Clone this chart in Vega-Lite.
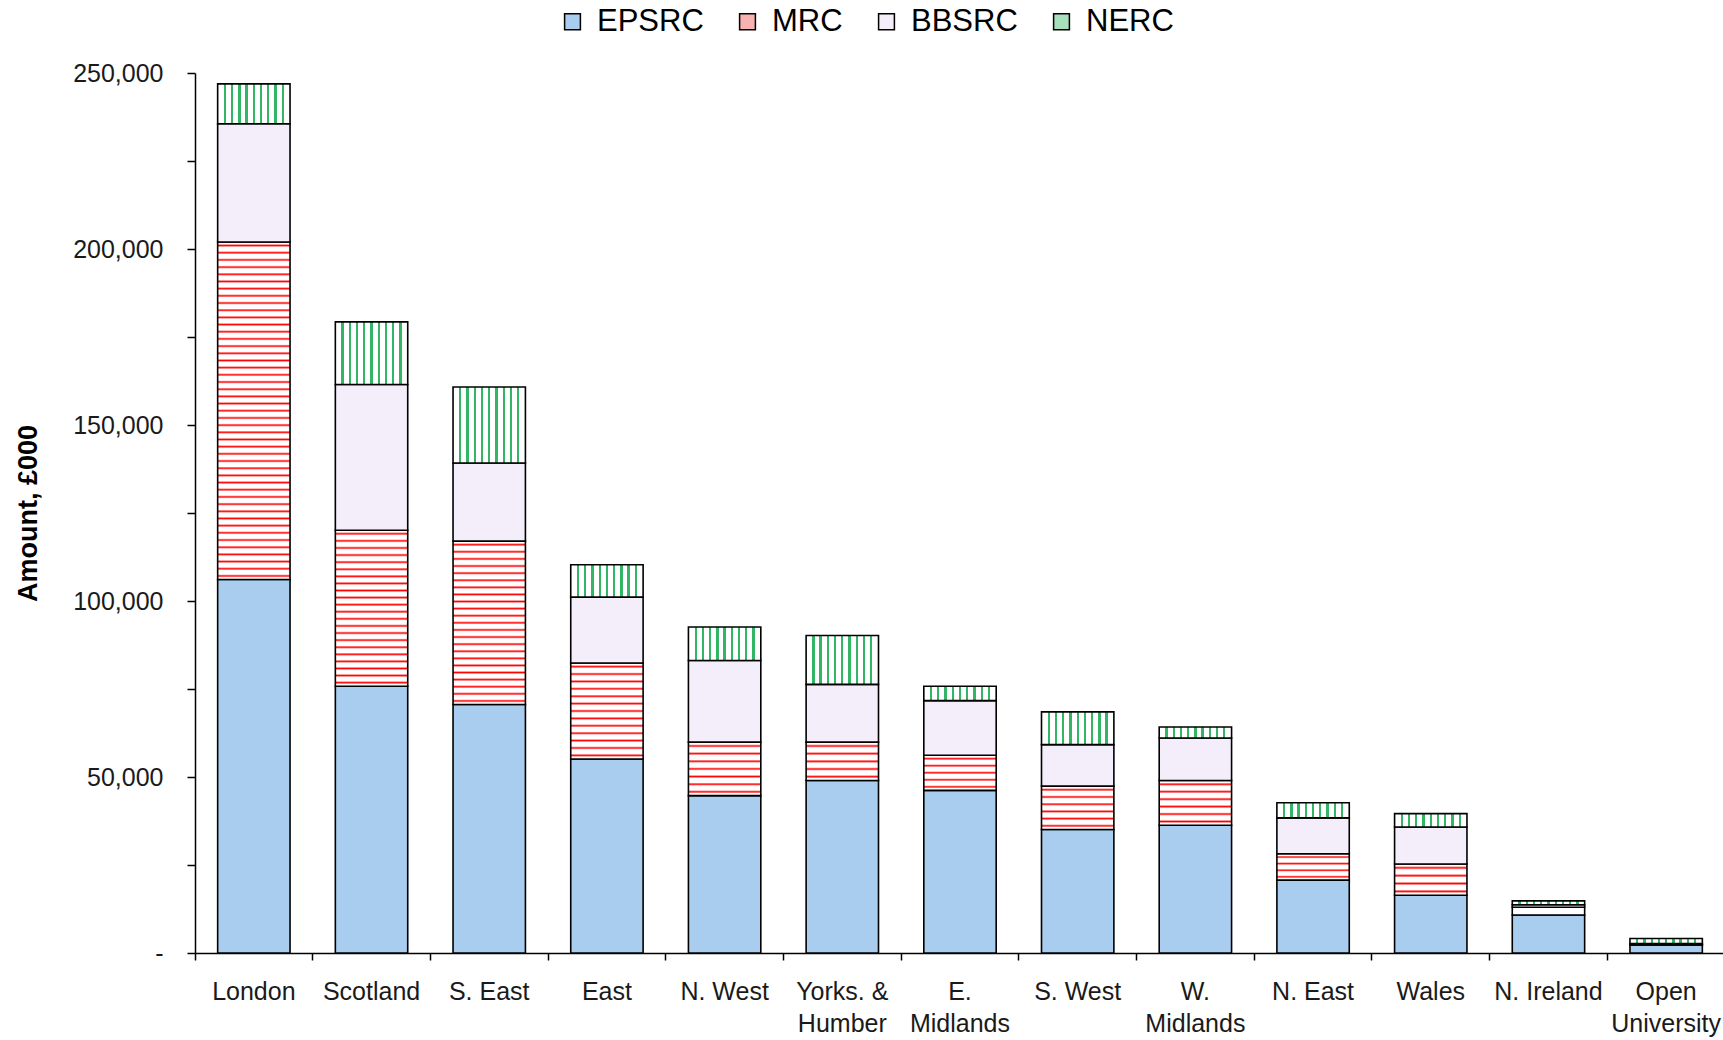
{
  "$schema": "https://vega.github.io/schema/vega-lite/v6.json",
  "autosize": "none",
  "padding": {"left": 195, "top": 73, "right": 0, "bottom": 87},
  "width": 1530,
  "height": 880,
  "background": "white",
  "config": {"view": {"stroke": null}, "font": "Liberation Sans"},
  "data": {
    "values": [
      {"Region": "London", "Council": "EPSRC", "Amount": 106100},
      {"Region": "London", "Council": "MRC", "Amount": 95900},
      {"Region": "London", "Council": "BBSRC", "Amount": 33600},
      {"Region": "London", "Council": "NERC", "Amount": 11300},
      {"Region": "Scotland", "Council": "EPSRC", "Amount": 75800},
      {"Region": "Scotland", "Council": "MRC", "Amount": 44300},
      {"Region": "Scotland", "Council": "BBSRC", "Amount": 41400},
      {"Region": "Scotland", "Council": "NERC", "Amount": 17800},
      {"Region": "S. East", "Council": "EPSRC", "Amount": 70600},
      {"Region": "S. East", "Council": "MRC", "Amount": 46400},
      {"Region": "S. East", "Council": "BBSRC", "Amount": 22200},
      {"Region": "S. East", "Council": "NERC", "Amount": 21600},
      {"Region": "East", "Council": "EPSRC", "Amount": 55100},
      {"Region": "East", "Council": "MRC", "Amount": 27300},
      {"Region": "East", "Council": "BBSRC", "Amount": 18700},
      {"Region": "East", "Council": "NERC", "Amount": 9200},
      {"Region": "N. West", "Council": "EPSRC", "Amount": 44700},
      {"Region": "N. West", "Council": "MRC", "Amount": 15200},
      {"Region": "N. West", "Council": "BBSRC", "Amount": 23200},
      {"Region": "N. West", "Council": "NERC", "Amount": 9500},
      {"Region": "Yorks. & Humber", "Council": "EPSRC", "Amount": 49000},
      {"Region": "Yorks. & Humber", "Council": "MRC", "Amount": 10900},
      {"Region": "Yorks. & Humber", "Council": "BBSRC", "Amount": 16400},
      {"Region": "Yorks. & Humber", "Council": "NERC", "Amount": 13900},
      {"Region": "E. Midlands", "Council": "EPSRC", "Amount": 46200},
      {"Region": "E. Midlands", "Council": "MRC", "Amount": 10000},
      {"Region": "E. Midlands", "Council": "BBSRC", "Amount": 15500},
      {"Region": "E. Midlands", "Council": "NERC", "Amount": 4100},
      {"Region": "S. West", "Council": "EPSRC", "Amount": 35100},
      {"Region": "S. West", "Council": "MRC", "Amount": 12300},
      {"Region": "S. West", "Council": "BBSRC", "Amount": 11800},
      {"Region": "S. West", "Council": "NERC", "Amount": 9300},
      {"Region": "W. Midlands", "Council": "EPSRC", "Amount": 36300},
      {"Region": "W. Midlands", "Council": "MRC", "Amount": 12700},
      {"Region": "W. Midlands", "Council": "BBSRC", "Amount": 12100},
      {"Region": "W. Midlands", "Council": "NERC", "Amount": 3100},
      {"Region": "N. East", "Council": "EPSRC", "Amount": 20700},
      {"Region": "N. East", "Council": "MRC", "Amount": 7500},
      {"Region": "N. East", "Council": "BBSRC", "Amount": 10200},
      {"Region": "N. East", "Council": "NERC", "Amount": 4300},
      {"Region": "Wales", "Council": "EPSRC", "Amount": 16400},
      {"Region": "Wales", "Council": "MRC", "Amount": 8900},
      {"Region": "Wales", "Council": "BBSRC", "Amount": 10500},
      {"Region": "Wales", "Council": "NERC", "Amount": 3800},
      {"Region": "N. Ireland", "Council": "EPSRC", "Amount": 10800},
      {"Region": "N. Ireland", "Council": "MRC", "Amount": 2200},
      {"Region": "N. Ireland", "Council": "BBSRC", "Amount": 700},
      {"Region": "N. Ireland", "Council": "NERC", "Amount": 1100},
      {"Region": "Open University", "Council": "EPSRC", "Amount": 2300},
      {"Region": "Open University", "Council": "MRC", "Amount": 100},
      {"Region": "Open University", "Council": "BBSRC", "Amount": 300},
      {"Region": "Open University", "Council": "NERC", "Amount": 1400}
    ]
  },
  "transform": [
    {"calculate": "indexof(['EPSRC','MRC','BBSRC','NERC'], datum.Council)", "as": "StackOrder"}
  ],
  "mark": {"type": "bar", "stroke": "#000000", "strokeWidth": 1.6, "width": {"band": 0.615}},
  "encoding": {
    "x": {
      "field": "Region",
      "type": "nominal",
      "sort": null,
      "scale": {"paddingInner": 0, "paddingOuter": 0},
      "axis": {
        "title": null,
        "labelAngle": 0,
        "bandPosition": 0,
        "tickSize": 7,
        "tickWidth": 1.5,
        "tickColor": "#000000",
        "domainColor": "#000000",
        "domainWidth": 1.5,
        "labelFont": "Liberation Sans",
        "labelFontSize": 25,
        "labelColor": "#1a1a1a",
        "labelPadding": 19,
        "labelLineHeight": 32,
        "labelLimit": 400,
        "labelOverlap": false,
        "labelExpr": "datum.label === 'Yorks. & Humber' ? ['Yorks. &', 'Humber'] : ((indexof(datum.label, 'Midlands') >= 0 || indexof(datum.label, 'University') >= 0) ? split(datum.label, ' ') : datum.label)"
      }
    },
    "y": {
      "field": "Amount",
      "type": "quantitative",
      "stack": "zero",
      "scale": {"domain": [0, 250000], "nice": false, "zero": true},
      "axis": {
        "title": "Amount, £000",
        "titleFont": "Liberation Sans",
        "titleFontSize": 27,
        "titleFontWeight": "bold",
        "titleColor": "#000000",
        "titlePadding": 30,
        "values": [0, 25000, 50000, 75000, 100000, 125000, 150000, 175000, 200000, 225000, 250000],
        "labelExpr": "datum.value === 0 ? '-\u00a0\u00a0' : (datum.value % 50000 === 0 ? format(datum.value, ',') : '')",
        "labelFont": "Liberation Sans",
        "labelFontSize": 25,
        "labelColor": "#1a1a1a",
        "labelPadding": 24,
        "labelOverlap": false,
        "tickSize": 8,
        "tickWidth": 1.5,
        "tickColor": "#000000",
        "domainColor": "#000000",
        "domainWidth": 1.5,
        "grid": false
      }
    },
    "fill": {
      "condition": [
        {
          "test": "datum.Council === 'NERC'",
          "value": {
            "gradient": "linear", "x1": 0, "y1": 0, "x2": 1, "y2": 0,
            "stops": [
              {"offset": 0, "color": "#fff"},
              {"offset": 0.084, "color": "#fff"}, {"offset": 0.084, "color": "#33b566"}, {"offset": 0.116, "color": "#33b566"}, {"offset": 0.116, "color": "#fff"},
              {"offset": 0.184, "color": "#fff"}, {"offset": 0.184, "color": "#33b566"}, {"offset": 0.216, "color": "#33b566"}, {"offset": 0.216, "color": "#fff"},
              {"offset": 0.284, "color": "#fff"}, {"offset": 0.284, "color": "#33b566"}, {"offset": 0.316, "color": "#33b566"}, {"offset": 0.316, "color": "#fff"},
              {"offset": 0.384, "color": "#fff"}, {"offset": 0.384, "color": "#33b566"}, {"offset": 0.416, "color": "#33b566"}, {"offset": 0.416, "color": "#fff"},
              {"offset": 0.484, "color": "#fff"}, {"offset": 0.484, "color": "#33b566"}, {"offset": 0.516, "color": "#33b566"}, {"offset": 0.516, "color": "#fff"},
              {"offset": 0.584, "color": "#fff"}, {"offset": 0.584, "color": "#33b566"}, {"offset": 0.616, "color": "#33b566"}, {"offset": 0.616, "color": "#fff"},
              {"offset": 0.684, "color": "#fff"}, {"offset": 0.684, "color": "#33b566"}, {"offset": 0.716, "color": "#33b566"}, {"offset": 0.716, "color": "#fff"},
              {"offset": 0.784, "color": "#fff"}, {"offset": 0.784, "color": "#33b566"}, {"offset": 0.816, "color": "#33b566"}, {"offset": 0.816, "color": "#fff"},
              {"offset": 0.884, "color": "#fff"}, {"offset": 0.884, "color": "#33b566"}, {"offset": 0.916, "color": "#33b566"}, {"offset": 0.916, "color": "#fff"},
              {"offset": 1, "color": "#fff"}
            ]
          }
        },
        {
          "test": "datum.Council === 'MRC' && datum.Region === 'London'",
          "value": {
            "gradient": "linear", "x1": 0, "y1": 0, "x2": 0, "y2": 1,
            "stops": [
              {"offset": 0.0056, "color": "#fff"}, {"offset": 0.0106, "color": "#f00"}, {"offset": 0.0156, "color": "#fff"},
              {"offset": 0.0269, "color": "#fff"}, {"offset": 0.0319, "color": "#f00"}, {"offset": 0.0369, "color": "#fff"},
              {"offset": 0.0482, "color": "#fff"}, {"offset": 0.0532, "color": "#f00"}, {"offset": 0.0582, "color": "#fff"},
              {"offset": 0.0695, "color": "#fff"}, {"offset": 0.0745, "color": "#f00"}, {"offset": 0.0795, "color": "#fff"},
              {"offset": 0.0907, "color": "#fff"}, {"offset": 0.0957, "color": "#f00"}, {"offset": 0.1007, "color": "#fff"},
              {"offset": 0.1120, "color": "#fff"}, {"offset": 0.1170, "color": "#f00"}, {"offset": 0.1220, "color": "#fff"},
              {"offset": 0.1333, "color": "#fff"}, {"offset": 0.1383, "color": "#f00"}, {"offset": 0.1433, "color": "#fff"},
              {"offset": 0.1546, "color": "#fff"}, {"offset": 0.1596, "color": "#f00"}, {"offset": 0.1646, "color": "#fff"},
              {"offset": 0.1759, "color": "#fff"}, {"offset": 0.1809, "color": "#f00"}, {"offset": 0.1859, "color": "#fff"},
              {"offset": 0.1971, "color": "#fff"}, {"offset": 0.2021, "color": "#f00"}, {"offset": 0.2071, "color": "#fff"},
              {"offset": 0.2184, "color": "#fff"}, {"offset": 0.2234, "color": "#f00"}, {"offset": 0.2284, "color": "#fff"},
              {"offset": 0.2397, "color": "#fff"}, {"offset": 0.2447, "color": "#f00"}, {"offset": 0.2497, "color": "#fff"},
              {"offset": 0.2610, "color": "#fff"}, {"offset": 0.2660, "color": "#f00"}, {"offset": 0.2710, "color": "#fff"},
              {"offset": 0.2822, "color": "#fff"}, {"offset": 0.2872, "color": "#f00"}, {"offset": 0.2922, "color": "#fff"},
              {"offset": 0.3035, "color": "#fff"}, {"offset": 0.3085, "color": "#f00"}, {"offset": 0.3135, "color": "#fff"},
              {"offset": 0.3248, "color": "#fff"}, {"offset": 0.3298, "color": "#f00"}, {"offset": 0.3348, "color": "#fff"},
              {"offset": 0.3461, "color": "#fff"}, {"offset": 0.3511, "color": "#f00"}, {"offset": 0.3561, "color": "#fff"},
              {"offset": 0.3673, "color": "#fff"}, {"offset": 0.3723, "color": "#f00"}, {"offset": 0.3773, "color": "#fff"},
              {"offset": 0.3886, "color": "#fff"}, {"offset": 0.3936, "color": "#f00"}, {"offset": 0.3986, "color": "#fff"},
              {"offset": 0.4099, "color": "#fff"}, {"offset": 0.4149, "color": "#f00"}, {"offset": 0.4199, "color": "#fff"},
              {"offset": 0.4312, "color": "#fff"}, {"offset": 0.4362, "color": "#f00"}, {"offset": 0.4412, "color": "#fff"},
              {"offset": 0.4524, "color": "#fff"}, {"offset": 0.4574, "color": "#f00"}, {"offset": 0.4624, "color": "#fff"},
              {"offset": 0.4737, "color": "#fff"}, {"offset": 0.4787, "color": "#f00"}, {"offset": 0.4837, "color": "#fff"},
              {"offset": 0.4950, "color": "#fff"}, {"offset": 0.5000, "color": "#f00"}, {"offset": 0.5050, "color": "#fff"},
              {"offset": 0.5163, "color": "#fff"}, {"offset": 0.5213, "color": "#f00"}, {"offset": 0.5263, "color": "#fff"},
              {"offset": 0.5376, "color": "#fff"}, {"offset": 0.5426, "color": "#f00"}, {"offset": 0.5476, "color": "#fff"},
              {"offset": 0.5588, "color": "#fff"}, {"offset": 0.5638, "color": "#f00"}, {"offset": 0.5688, "color": "#fff"},
              {"offset": 0.5801, "color": "#fff"}, {"offset": 0.5851, "color": "#f00"}, {"offset": 0.5901, "color": "#fff"},
              {"offset": 0.6014, "color": "#fff"}, {"offset": 0.6064, "color": "#f00"}, {"offset": 0.6114, "color": "#fff"},
              {"offset": 0.6227, "color": "#fff"}, {"offset": 0.6277, "color": "#f00"}, {"offset": 0.6327, "color": "#fff"},
              {"offset": 0.6439, "color": "#fff"}, {"offset": 0.6489, "color": "#f00"}, {"offset": 0.6539, "color": "#fff"},
              {"offset": 0.6652, "color": "#fff"}, {"offset": 0.6702, "color": "#f00"}, {"offset": 0.6752, "color": "#fff"},
              {"offset": 0.6865, "color": "#fff"}, {"offset": 0.6915, "color": "#f00"}, {"offset": 0.6965, "color": "#fff"},
              {"offset": 0.7078, "color": "#fff"}, {"offset": 0.7128, "color": "#f00"}, {"offset": 0.7178, "color": "#fff"},
              {"offset": 0.7290, "color": "#fff"}, {"offset": 0.7340, "color": "#f00"}, {"offset": 0.7390, "color": "#fff"},
              {"offset": 0.7503, "color": "#fff"}, {"offset": 0.7553, "color": "#f00"}, {"offset": 0.7603, "color": "#fff"},
              {"offset": 0.7716, "color": "#fff"}, {"offset": 0.7766, "color": "#f00"}, {"offset": 0.7816, "color": "#fff"},
              {"offset": 0.7929, "color": "#fff"}, {"offset": 0.7979, "color": "#f00"}, {"offset": 0.8029, "color": "#fff"},
              {"offset": 0.8141, "color": "#fff"}, {"offset": 0.8191, "color": "#f00"}, {"offset": 0.8241, "color": "#fff"},
              {"offset": 0.8354, "color": "#fff"}, {"offset": 0.8404, "color": "#f00"}, {"offset": 0.8454, "color": "#fff"},
              {"offset": 0.8567, "color": "#fff"}, {"offset": 0.8617, "color": "#f00"}, {"offset": 0.8667, "color": "#fff"},
              {"offset": 0.8780, "color": "#fff"}, {"offset": 0.8830, "color": "#f00"}, {"offset": 0.8880, "color": "#fff"},
              {"offset": 0.8993, "color": "#fff"}, {"offset": 0.9043, "color": "#f00"}, {"offset": 0.9093, "color": "#fff"},
              {"offset": 0.9205, "color": "#fff"}, {"offset": 0.9255, "color": "#f00"}, {"offset": 0.9305, "color": "#fff"},
              {"offset": 0.9418, "color": "#fff"}, {"offset": 0.9468, "color": "#f00"}, {"offset": 0.9518, "color": "#fff"},
              {"offset": 0.9631, "color": "#fff"}, {"offset": 0.9681, "color": "#f00"}, {"offset": 0.9731, "color": "#fff"},
              {"offset": 0.9844, "color": "#fff"}, {"offset": 0.9894, "color": "#f00"}, {"offset": 0.9944, "color": "#fff"}
            ]
          }
        },
        {
          "test": "datum.Council === 'MRC' && datum.Region === 'Scotland'",
          "value": {
            "gradient": "linear", "x1": 0, "y1": 0, "x2": 0, "y2": 1,
            "stops": [
              {"offset": 0.0117, "color": "#fff"}, {"offset": 0.0227, "color": "#f00"}, {"offset": 0.0337, "color": "#fff"},
              {"offset": 0.0572, "color": "#fff"}, {"offset": 0.0682, "color": "#f00"}, {"offset": 0.0792, "color": "#fff"},
              {"offset": 0.1026, "color": "#fff"}, {"offset": 0.1136, "color": "#f00"}, {"offset": 0.1246, "color": "#fff"},
              {"offset": 0.1481, "color": "#fff"}, {"offset": 0.1591, "color": "#f00"}, {"offset": 0.1701, "color": "#fff"},
              {"offset": 0.1935, "color": "#fff"}, {"offset": 0.2045, "color": "#f00"}, {"offset": 0.2155, "color": "#fff"},
              {"offset": 0.2390, "color": "#fff"}, {"offset": 0.2500, "color": "#f00"}, {"offset": 0.2610, "color": "#fff"},
              {"offset": 0.2845, "color": "#fff"}, {"offset": 0.2955, "color": "#f00"}, {"offset": 0.3065, "color": "#fff"},
              {"offset": 0.3299, "color": "#fff"}, {"offset": 0.3409, "color": "#f00"}, {"offset": 0.3519, "color": "#fff"},
              {"offset": 0.3754, "color": "#fff"}, {"offset": 0.3864, "color": "#f00"}, {"offset": 0.3974, "color": "#fff"},
              {"offset": 0.4208, "color": "#fff"}, {"offset": 0.4318, "color": "#f00"}, {"offset": 0.4428, "color": "#fff"},
              {"offset": 0.4663, "color": "#fff"}, {"offset": 0.4773, "color": "#f00"}, {"offset": 0.4883, "color": "#fff"},
              {"offset": 0.5117, "color": "#fff"}, {"offset": 0.5227, "color": "#f00"}, {"offset": 0.5337, "color": "#fff"},
              {"offset": 0.5572, "color": "#fff"}, {"offset": 0.5682, "color": "#f00"}, {"offset": 0.5792, "color": "#fff"},
              {"offset": 0.6026, "color": "#fff"}, {"offset": 0.6136, "color": "#f00"}, {"offset": 0.6246, "color": "#fff"},
              {"offset": 0.6481, "color": "#fff"}, {"offset": 0.6591, "color": "#f00"}, {"offset": 0.6701, "color": "#fff"},
              {"offset": 0.6935, "color": "#fff"}, {"offset": 0.7045, "color": "#f00"}, {"offset": 0.7155, "color": "#fff"},
              {"offset": 0.7390, "color": "#fff"}, {"offset": 0.7500, "color": "#f00"}, {"offset": 0.7610, "color": "#fff"},
              {"offset": 0.7845, "color": "#fff"}, {"offset": 0.7955, "color": "#f00"}, {"offset": 0.8065, "color": "#fff"},
              {"offset": 0.8299, "color": "#fff"}, {"offset": 0.8409, "color": "#f00"}, {"offset": 0.8519, "color": "#fff"},
              {"offset": 0.8754, "color": "#fff"}, {"offset": 0.8864, "color": "#f00"}, {"offset": 0.8974, "color": "#fff"},
              {"offset": 0.9208, "color": "#fff"}, {"offset": 0.9318, "color": "#f00"}, {"offset": 0.9428, "color": "#fff"},
              {"offset": 0.9663, "color": "#fff"}, {"offset": 0.9773, "color": "#f00"}, {"offset": 0.9883, "color": "#fff"}
            ]
          }
        },
        {
          "test": "datum.Council === 'MRC' && datum.Region === 'S. East'",
          "value": {
            "gradient": "linear", "x1": 0, "y1": 0, "x2": 0, "y2": 1,
            "stops": [
              {"offset": 0.0113, "color": "#fff"}, {"offset": 0.0217, "color": "#f00"}, {"offset": 0.0321, "color": "#fff"},
              {"offset": 0.0548, "color": "#fff"}, {"offset": 0.0652, "color": "#f00"}, {"offset": 0.0756, "color": "#fff"},
              {"offset": 0.0983, "color": "#fff"}, {"offset": 0.1087, "color": "#f00"}, {"offset": 0.1191, "color": "#fff"},
              {"offset": 0.1418, "color": "#fff"}, {"offset": 0.1522, "color": "#f00"}, {"offset": 0.1626, "color": "#fff"},
              {"offset": 0.1853, "color": "#fff"}, {"offset": 0.1957, "color": "#f00"}, {"offset": 0.2061, "color": "#fff"},
              {"offset": 0.2287, "color": "#fff"}, {"offset": 0.2391, "color": "#f00"}, {"offset": 0.2495, "color": "#fff"},
              {"offset": 0.2722, "color": "#fff"}, {"offset": 0.2826, "color": "#f00"}, {"offset": 0.2930, "color": "#fff"},
              {"offset": 0.3157, "color": "#fff"}, {"offset": 0.3261, "color": "#f00"}, {"offset": 0.3365, "color": "#fff"},
              {"offset": 0.3592, "color": "#fff"}, {"offset": 0.3696, "color": "#f00"}, {"offset": 0.3800, "color": "#fff"},
              {"offset": 0.4026, "color": "#fff"}, {"offset": 0.4130, "color": "#f00"}, {"offset": 0.4234, "color": "#fff"},
              {"offset": 0.4461, "color": "#fff"}, {"offset": 0.4565, "color": "#f00"}, {"offset": 0.4669, "color": "#fff"},
              {"offset": 0.4896, "color": "#fff"}, {"offset": 0.5000, "color": "#f00"}, {"offset": 0.5104, "color": "#fff"},
              {"offset": 0.5331, "color": "#fff"}, {"offset": 0.5435, "color": "#f00"}, {"offset": 0.5539, "color": "#fff"},
              {"offset": 0.5766, "color": "#fff"}, {"offset": 0.5870, "color": "#f00"}, {"offset": 0.5974, "color": "#fff"},
              {"offset": 0.6200, "color": "#fff"}, {"offset": 0.6304, "color": "#f00"}, {"offset": 0.6408, "color": "#fff"},
              {"offset": 0.6635, "color": "#fff"}, {"offset": 0.6739, "color": "#f00"}, {"offset": 0.6843, "color": "#fff"},
              {"offset": 0.7070, "color": "#fff"}, {"offset": 0.7174, "color": "#f00"}, {"offset": 0.7278, "color": "#fff"},
              {"offset": 0.7505, "color": "#fff"}, {"offset": 0.7609, "color": "#f00"}, {"offset": 0.7713, "color": "#fff"},
              {"offset": 0.7939, "color": "#fff"}, {"offset": 0.8043, "color": "#f00"}, {"offset": 0.8147, "color": "#fff"},
              {"offset": 0.8374, "color": "#fff"}, {"offset": 0.8478, "color": "#f00"}, {"offset": 0.8582, "color": "#fff"},
              {"offset": 0.8809, "color": "#fff"}, {"offset": 0.8913, "color": "#f00"}, {"offset": 0.9017, "color": "#fff"},
              {"offset": 0.9244, "color": "#fff"}, {"offset": 0.9348, "color": "#f00"}, {"offset": 0.9452, "color": "#fff"},
              {"offset": 0.9679, "color": "#fff"}, {"offset": 0.9783, "color": "#f00"}, {"offset": 0.9887, "color": "#fff"}
            ]
          }
        },
        {
          "test": "datum.Council === 'MRC' && datum.Region === 'East'",
          "value": {
            "gradient": "linear", "x1": 0, "y1": 0, "x2": 0, "y2": 1,
            "stops": [
              {"offset": 0.0208, "color": "#fff"}, {"offset": 0.0385, "color": "#f00"}, {"offset": 0.0562, "color": "#fff"},
              {"offset": 0.0977, "color": "#fff"}, {"offset": 0.1154, "color": "#f00"}, {"offset": 0.1331, "color": "#fff"},
              {"offset": 0.1746, "color": "#fff"}, {"offset": 0.1923, "color": "#f00"}, {"offset": 0.2100, "color": "#fff"},
              {"offset": 0.2515, "color": "#fff"}, {"offset": 0.2692, "color": "#f00"}, {"offset": 0.2869, "color": "#fff"},
              {"offset": 0.3285, "color": "#fff"}, {"offset": 0.3462, "color": "#f00"}, {"offset": 0.3639, "color": "#fff"},
              {"offset": 0.4054, "color": "#fff"}, {"offset": 0.4231, "color": "#f00"}, {"offset": 0.4408, "color": "#fff"},
              {"offset": 0.4823, "color": "#fff"}, {"offset": 0.5000, "color": "#f00"}, {"offset": 0.5177, "color": "#fff"},
              {"offset": 0.5592, "color": "#fff"}, {"offset": 0.5769, "color": "#f00"}, {"offset": 0.5946, "color": "#fff"},
              {"offset": 0.6361, "color": "#fff"}, {"offset": 0.6538, "color": "#f00"}, {"offset": 0.6715, "color": "#fff"},
              {"offset": 0.7131, "color": "#fff"}, {"offset": 0.7308, "color": "#f00"}, {"offset": 0.7485, "color": "#fff"},
              {"offset": 0.7900, "color": "#fff"}, {"offset": 0.8077, "color": "#f00"}, {"offset": 0.8254, "color": "#fff"},
              {"offset": 0.8669, "color": "#fff"}, {"offset": 0.8846, "color": "#f00"}, {"offset": 0.9023, "color": "#fff"},
              {"offset": 0.9438, "color": "#fff"}, {"offset": 0.9615, "color": "#f00"}, {"offset": 0.9792, "color": "#fff"}
            ]
          }
        },
        {
          "test": "datum.Council === 'MRC' && datum.Region === 'N. West'",
          "value": {
            "gradient": "linear", "x1": 0, "y1": 0, "x2": 0, "y2": 1,
            "stops": [
              {"offset": 0.0396, "color": "#fff"}, {"offset": 0.0714, "color": "#f00"}, {"offset": 0.1032, "color": "#fff"},
              {"offset": 0.1825, "color": "#fff"}, {"offset": 0.2143, "color": "#f00"}, {"offset": 0.2461, "color": "#fff"},
              {"offset": 0.3253, "color": "#fff"}, {"offset": 0.3571, "color": "#f00"}, {"offset": 0.3889, "color": "#fff"},
              {"offset": 0.4682, "color": "#fff"}, {"offset": 0.5000, "color": "#f00"}, {"offset": 0.5318, "color": "#fff"},
              {"offset": 0.6111, "color": "#fff"}, {"offset": 0.6429, "color": "#f00"}, {"offset": 0.6747, "color": "#fff"},
              {"offset": 0.7539, "color": "#fff"}, {"offset": 0.7857, "color": "#f00"}, {"offset": 0.8175, "color": "#fff"},
              {"offset": 0.8968, "color": "#fff"}, {"offset": 0.9286, "color": "#f00"}, {"offset": 0.9604, "color": "#fff"}
            ]
          }
        },
        {
          "test": "datum.Council === 'MRC' && (datum.Region === 'Yorks. & Humber' || datum.Region === 'E. Midlands')",
          "value": {
            "gradient": "linear", "x1": 0, "y1": 0, "x2": 0, "y2": 1,
            "stops": [
              {"offset": 0.054, "color": "#fff"}, {"offset": 0.1, "color": "#f00"}, {"offset": 0.146, "color": "#fff"},
              {"offset": 0.254, "color": "#fff"}, {"offset": 0.3, "color": "#f00"}, {"offset": 0.346, "color": "#fff"},
              {"offset": 0.454, "color": "#fff"}, {"offset": 0.5, "color": "#f00"}, {"offset": 0.546, "color": "#fff"},
              {"offset": 0.654, "color": "#fff"}, {"offset": 0.7, "color": "#f00"}, {"offset": 0.746, "color": "#fff"},
              {"offset": 0.854, "color": "#fff"}, {"offset": 0.9, "color": "#f00"}, {"offset": 0.946, "color": "#fff"}
            ]
          }
        },
        {
          "test": "datum.Council === 'MRC' && (datum.Region === 'S. West' || datum.Region === 'W. Midlands')",
          "value": {
            "gradient": "linear", "x1": 0, "y1": 0, "x2": 0, "y2": 1,
            "stops": [
              {"offset": 0.0447, "color": "#fff"}, {"offset": 0.0833, "color": "#f00"}, {"offset": 0.1219, "color": "#fff"},
              {"offset": 0.2114, "color": "#fff"}, {"offset": 0.25, "color": "#f00"}, {"offset": 0.2886, "color": "#fff"},
              {"offset": 0.3781, "color": "#fff"}, {"offset": 0.4167, "color": "#f00"}, {"offset": 0.4553, "color": "#fff"},
              {"offset": 0.5447, "color": "#fff"}, {"offset": 0.5833, "color": "#f00"}, {"offset": 0.6219, "color": "#fff"},
              {"offset": 0.7114, "color": "#fff"}, {"offset": 0.75, "color": "#f00"}, {"offset": 0.7886, "color": "#fff"},
              {"offset": 0.8781, "color": "#fff"}, {"offset": 0.9167, "color": "#f00"}, {"offset": 0.9553, "color": "#fff"}
            ]
          }
        },
        {
          "test": "datum.Council === 'MRC' && (datum.Region === 'N. East' || datum.Region === 'Wales')",
          "value": {
            "gradient": "linear", "x1": 0, "y1": 0, "x2": 0, "y2": 1,
            "stops": [
              {"offset": 0.0664, "color": "#fff"}, {"offset": 0.125, "color": "#f00"}, {"offset": 0.1836, "color": "#fff"},
              {"offset": 0.3164, "color": "#fff"}, {"offset": 0.375, "color": "#f00"}, {"offset": 0.4336, "color": "#fff"},
              {"offset": 0.5664, "color": "#fff"}, {"offset": 0.625, "color": "#f00"}, {"offset": 0.6836, "color": "#fff"},
              {"offset": 0.8164, "color": "#fff"}, {"offset": 0.875, "color": "#f00"}, {"offset": 0.9336, "color": "#fff"}
            ]
          }
        },
        {
          "test": "datum.Council === 'MRC'",
          "value": "#ffffff"
        }
      ],
      "field": "Council",
      "type": "nominal",
      "scale": {
        "domain": ["EPSRC", "MRC", "BBSRC", "NERC"],
        "range": ["#a9cdee", "#f9b2b2", "#f3eefa", "#a8e0bd"]
      },
      "legend": {
        "orient": "none",
        "legendX": 362,
        "legendY": -67,
        "direction": "horizontal",
        "title": null,
        "symbolType": "square",
        "symbolSize": 250,
        "symbolStrokeColor": "#000000",
        "symbolStrokeWidth": 1.5,
        "symbolOpacity": 1,
        "labelFont": "Liberation Sans",
        "labelFontSize": 31,
        "labelColor": "#000000",
        "labelOffset": 9,
        "labelLimit": 300,
        "columnPadding": 28,
        "padding": 0
      }
    },
    "order": {"field": "StackOrder", "type": "quantitative"}
  }
}
